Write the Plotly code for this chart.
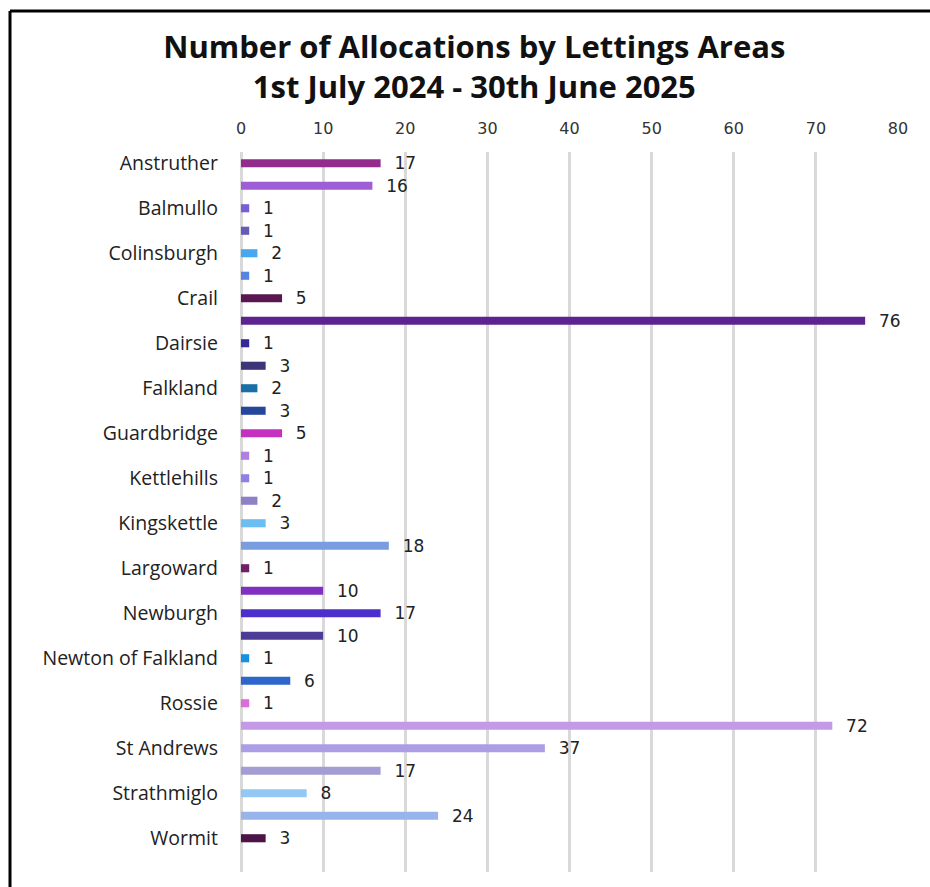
import plotly.graph_objects as go

areas = ["Anstruther", "Auchtermuchty", "Balmullo", "Boarhills", "Colinsburgh", "Collessie",
         "Crail", "Cupar", "Dairsie", "Elie", "Falkland", "Freuchie", "Guardbridge", "Kemback",
         "Kettlehills", "Kilconquhar", "Kingskettle", "Ladybank", "Largoward", "Leuchars",
         "Newburgh", "Newport-on-Tay", "Newton of Falkland", "Pittenweem", "Rossie",
         "Springfield", "St Andrews", "St Monans", "Strathmiglo", "Tayport", "Wormit"]
allocations = [17, 16, 1, 1, 2, 1, 5, 76, 1, 3, 2, 3, 5, 1, 1, 2, 3, 18, 1, 10,
               17, 10, 1, 6, 1, 72, 37, 17, 8, 24, 3]
bar_colors = ["#922B8C", "#9E5ED6", "#7A5CD6", "#655CB5", "#45A8F0", "#5585E0",
              "#5A1650", "#5E2390", "#352899", "#3C3578", "#1A6FA8", "#24479B",
              "#C530C0", "#B07FE0", "#9080E6", "#8E80C8", "#6BBDF2", "#7A9DE0",
              "#6E1F66", "#8030C0", "#4B30CC", "#4C3C96", "#1890E0", "#2E66CC",
              "#DE6CD8", "#C499E6", "#AB9DE6", "#A39DD4", "#93C8F5", "#98B4EA", "#4D1448"]
x_ticks = [0, 10, 20, 30, 40, 50, 60, 70, 80]
shown_labels = areas[::2]

W, H = 930, 887
ml, mr, mt, mb = 241, 32, 152, 15

fig = go.Figure(go.Bar(
    y=areas, x=allocations, orientation="h",
    marker=dict(color=bar_colors, line=dict(width=0)),
    width=0.36,
    text=["  " + str(v) for v in allocations],
    textposition="outside",
    constraintext="none",
    textfont=dict(family="DejaVu Sans", size=17, color="#222222"),
    cliponaxis=False,
))

fig.update_layout(
    width=W, height=H,
    margin=dict(l=ml, r=mr, t=mt, b=mb),
    paper_bgcolor="white", plot_bgcolor="white",
    showlegend=False,
    title=dict(
        text="<b>Number of Allocations by Lettings Areas<br>1st July 2024 - 30th June 2025</b>",
        x=0.51, xanchor="center", y=0.935, yanchor="middle",
        font=dict(family="Open Sans", size=31, color="#111111"),
    ),
    xaxis=dict(
        side="top", range=[0, 80], tickvals=x_ticks,
        showgrid=True, gridcolor="#d9d9d9", gridwidth=2.5,
        zeroline=True, zerolinecolor="#d9d9d9", zerolinewidth=2.5,
        showline=False, ticks="",
        ticklabelstandoff=14,
        tickfont=dict(family="DejaVu Sans", size=16, color="#333333"),
    ),
    yaxis=dict(
        type="category", categoryorder="array", categoryarray=areas,
        range=[len(areas) + 0.5, -0.5],
        tickvals=shown_labels, ticktext=shown_labels,
        showgrid=False, zeroline=False, showline=False, ticks="",
        ticklabelstandoff=22,
        tickfont=dict(family="Open Sans", size=19.5, color="#222222"),
    ),
    shapes=[
        dict(type="line", xref="paper", yref="paper",
             x0=(10 - ml) / (W - ml - mr), x1=(W - ml) / (W - ml - mr),
             y0=(H - 11 - mb) / (H - mt - mb), y1=(H - 11 - mb) / (H - mt - mb),
             line=dict(color="black", width=3)),
        dict(type="line", xref="paper", yref="paper",
             x0=(10 - ml) / (W - ml - mr), x1=(10 - ml) / (W - ml - mr),
             y0=(H - 11 - mb) / (H - mt - mb), y1=(-mb - 2) / (H - mt - mb),
             line=dict(color="black", width=3)),
    ],
)

fig.write_html("out.html", config={"displayModeBar": False},
               post_script="document.body.style.margin='0';")
